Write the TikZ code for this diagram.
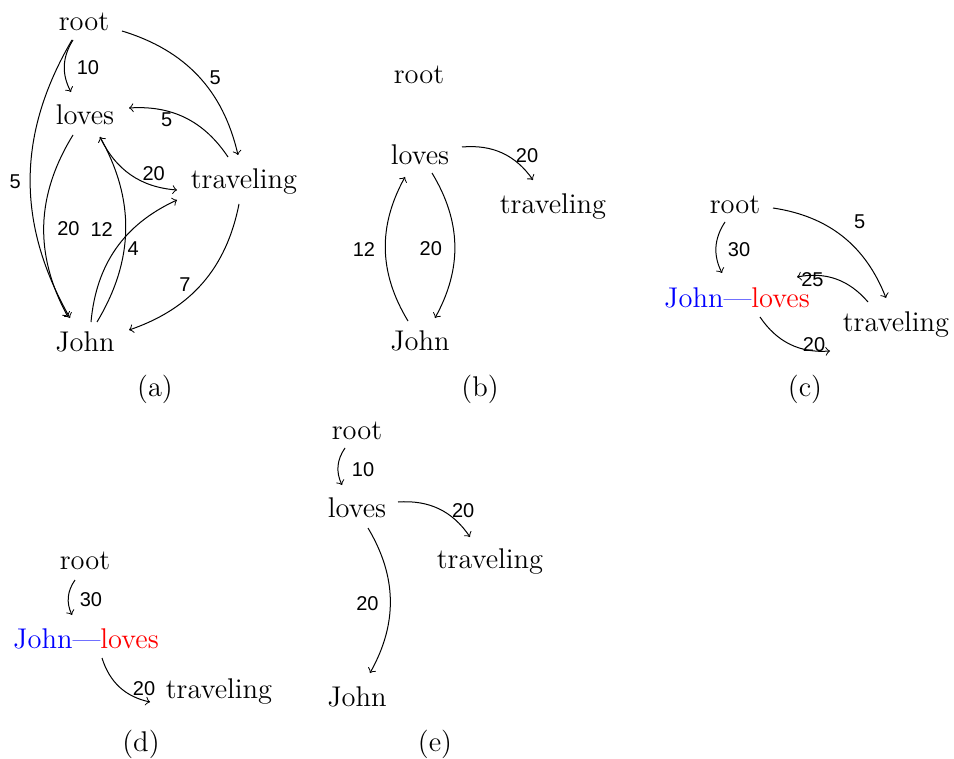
\documentclass[tikz,border=0pt]{standalone}
\usepackage{fontspec}
\newfontfamily\lblfont{Liberation Sans}
\begin{document}
\begin{tikzpicture}[x=0.4pt,y=-0.4pt,
  txt/.style={font=\fontsize{11.4}{13.7}\selectfont, inner sep=0pt},
  lbl/.style={font=\lblfont\fontsize{8}{9.6}\selectfont, inner sep=0pt},
  e/.style={->, line width=0.4pt}]
\useasboundingbox (0,0) rectangle (954,759);

% ---------- (a) ----------
\node[txt] (aroot) at (84,22) {root};
\node[txt] (aloves) at (85,115) {loves};
\node[txt] (atrav) at (244,182) {traveling};
\node[txt] (ajohn) at (85,342) {John};
\node[txt] (acap) at (155,389) {(a)};

\draw[e] ([shift={(-11,18)}]aroot.center) to[bend right] node[lbl,shift={(23.6,2)}]{10} ([shift={(-14,-23)}]aloves.center);
\draw[e] ([shift={(-12,18)}]aroot.center) to[bend right] node[lbl,shift={(-15,3)}]{5} ([shift={(-15,-24)}]ajohn.center);
\draw[e] ([shift={(38,9)}]aroot.center) to[bend left] node[lbl,shift={(17,2)}]{5} ([shift={(-6,-27)}]atrav.center);
\draw[e] ([shift={(-16,-25)}]atrav.center) to[bend right] node[lbl,shift={(-19,2)}]{5} ([shift={(44,-7)}]aloves.center);
\draw[e] ([shift={(15,22)}]aloves.center) to[bend right] node[lbl,shift={(23,-1)}]{20} ([shift={(-67,8)}]atrav.center);
\draw[e] ([shift={(-12,20)}]aloves.center) to[bend right] node[lbl,shift={(24.7,3)}]{20} ([shift={(-17,-25)}]ajohn.center);
\draw[e] ([shift={(12,-20)}]ajohn.center) to[bend right] node[lbl,shift={(-24,-0.5)}]{12} ([shift={(15,22)}]aloves.center);
\draw[e] ([shift={(6,-20)}]ajohn.center) to[bend left] node[lbl,shift={(17,0.6)}]{4} ([shift={(-67,18)}]atrav.center);
\draw[e] ([shift={(-5,22)}]atrav.center) to[bend left] node[lbl,shift={(-17.5,1)}]{7} ([shift={(44,-12)}]ajohn.center);

% ---------- (b) ----------
\node[txt] (broot) at (419,75) {root};
\node[txt] (bloves) at (420,155) {loves};
\node[txt] (btrav) at (553,207) {traveling};
\node[txt] (bjohn) at (420,341) {John};
\node[txt] (bcap) at (480,389) {(b)};

\draw[e] ([shift={(42,-8)}]bloves.center) to[bend left] node[lbl,shift={(24.7,3)}]{20} ([shift={(-20,-27)}]btrav.center);
\draw[e] ([shift={(12,18)}]bloves.center) to[bend left] node[lbl,shift={(-24,4)}]{20} ([shift={(15,-23)}]bjohn.center);
\draw[e] ([shift={(-12,-20)}]bjohn.center) to[bend left] node[lbl,shift={(-21.4,0.5)}]{12} ([shift={(-15,22)}]bloves.center);

% ---------- (c) ----------
\node[txt] (croot) at (735,205) {root};
\node[txt] (cjl) at (737,298) {\color{blue}John---\color{red}loves};
\node[txt] (ctrav) at (896,325) {traveling};
\node[txt] (ccap) at (805,389) {(c)};
\coordinate (cend) at (830,351);

\draw[e] ([shift={(-10,17)}]croot.center) to[bend right] node[lbl,shift={(23,2.5)}]{30} ([shift={(-15,-25)}]cjl.center);
\draw[e] ([shift={(38,3)}]croot.center) to[bend left] node[lbl,shift={(17,-15)}]{5} ([shift={(-10,-27)}]ctrav.center);
\draw[e] ([shift={(-28,-23)}]ctrav.center) to[bend right] node[lbl,shift={(-23.7,0.4)}]{25} ([shift={(60,-21)}]cjl.center);
\draw[e] ([shift={(23,19)}]cjl.center) to[bend right] node[lbl,shift={(24,0)}]{20} (cend);

% ---------- (d) ----------
\node[txt] (droot) at (85,561) {root};
\node[txt] (djl) at (86,639) {\color{blue}John---\color{red}loves};
\node[txt] (dtrav) at (219,692) {traveling};
\node[txt] (dcap) at (141,744) {(d)};

\draw[e] ([shift={(-10,19)}]droot.center) to[bend right] node[lbl,shift={(22.6,2.5)}]{30} ([shift={(-14,-24)}]djl.center);
\draw[e] ([shift={(16,19)}]djl.center) to[bend right] node[lbl,shift={(24.5,1.4)}]{20} ([shift={(-69,10)}]dtrav.center);

% ---------- (e) ----------
\node[txt] (eroot) at (357,431) {root};
\node[txt] (eloves) at (357,508) {loves};
\node[txt] (etrav) at (490,562) {traveling};
\node[txt] (ejohn) at (357,697) {John};
\node[txt] (ecap) at (435,744) {(e)};

\draw[e] ([shift={(-12,17)}]eroot.center) to[bend right] node[lbl,shift={(25,3.5)}]{10} ([shift={(-15,-23)}]eloves.center);
\draw[e] ([shift={(41,-6)}]eloves.center) to[bend left] node[lbl,shift={(24,1.5)}]{20} ([shift={(-20,-25)}]etrav.center);
\draw[e] ([shift={(11,20)}]eloves.center) to[bend left] node[lbl,shift={(-22.8,3)}]{20} ([shift={(13,-24)}]ejohn.center);
\end{tikzpicture}
\end{document}
